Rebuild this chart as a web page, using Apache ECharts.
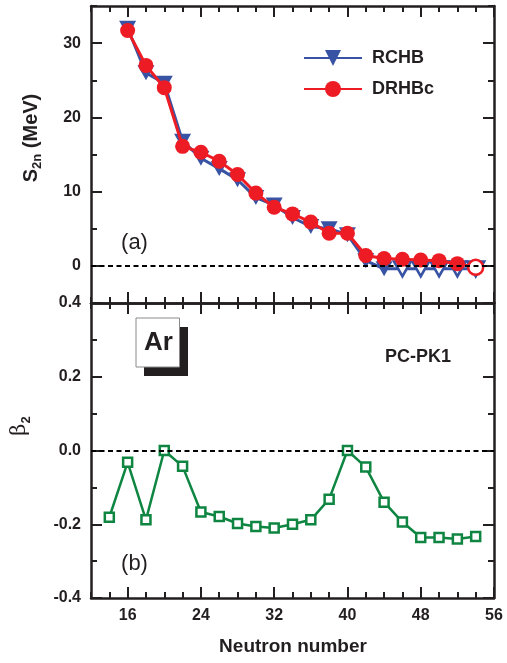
<!DOCTYPE html>
<html><head><meta charset="utf-8">
<script src="https://cdn.jsdelivr.net/npm/echarts@6/dist/echarts.min.js"></script>
<style>html,body{margin:0;padding:0;background:#fff}#c{width:507px;height:663px}</style>
</head><body><div id="c"></div>
<script>
// ---- data ----
const neutronS2n = [16,18,20,22,24,26,28,30,32,34,36,38,40,42,44,46,48,50,52,54];
const rchbS2n    = [32.0,26.0,24.6,16.8,14.5,13.1,11.6,9.2,8.2,6.5,5.3,5.0,4.2,0.7,-0.4,-0.4,-0.4,-0.4,-0.4,-0.4];
const drhbcS2n   = [31.7,27.0,24.0,16.1,15.3,14.1,12.3,9.8,7.9,7.0,5.9,4.4,4.4,1.4,1.0,0.9,0.8,0.7,0.3,-0.2];
const rchbUnboundN  = [46,48,50,52,54];
const drhbcUnboundN = [54];
const neutronBeta = [14,16,18,20,22,24,26,28,30,32,34,36,38,40,42,44,46,48,50,52,54];
const beta2 = [-0.181,-0.032,-0.188,0.0,-0.043,-0.167,-0.179,-0.198,-0.206,-0.210,-0.200,-0.188,-0.132,0.0,-0.045,-0.140,-0.194,-0.236,-0.236,-0.240,-0.233];
const xMajorTicks = [16,24,32,40,48,56];
const s2nMajorTicks = [0,10,20,30];
const betaMajorTicks = [-0.4,-0.2,0,0.2,0.4];
const seriesNames = ['RCHB','DRHBc'];

// ---- styles ----
const AX = '#231f20';
const BLUE = '#3953a4';
const RED = '#ed1c24';
const GREEN = '#0e8541';
const FONT = "'Liberation Sans', Arial, sans-serif";
const lblStyle = {color: AX, fontSize: 16, fontWeight: 'bold', fontFamily: FONT};

function xAx(grid, pos, major, labels) {
  const a = {
    type: 'value', gridIndex: grid, position: pos, min: 12, max: 56,
    axisLine: {show: !major, onZero: false, lineStyle: {color: AX, width: 2.5}},
    axisTick: {show: true, inside: true, length: major ? 11 : 6, lineStyle: {color: AX, width: 2}},
    axisLabel: {show: !!labels, margin: 10, ...lblStyle},
    splitLine: {show: false}
  };
  if (major) { a.axisTick.customValues = xMajorTicks; a.axisLabel.customValues = xMajorTicks; }
  else { a.interval = 2; }
  return a;
}
function yAx(grid, pos, major, labels) {
  const top = grid === 0;
  const a = {
    type: 'value', gridIndex: grid, position: pos,
    min: top ? -5 : -0.4, max: top ? 35 : 0.4,
    axisLine: {show: !major, onZero: false, lineStyle: {color: AX, width: 2.5}},
    axisTick: {show: true, inside: true, length: major ? 11 : 6, lineStyle: {color: AX, width: 2}},
    axisLabel: {show: !!labels, margin: 10, ...lblStyle,
      formatter: top ? (v => String(v)) : (v => v.toFixed(1))},
    splitLine: {show: false}
  };
  if (major) {
    const cv = top ? s2nMajorTicks : betaMajorTicks;
    a.axisTick.customValues = cv; a.axisLabel.customValues = cv;
  } else { a.interval = top ? 5 : 0.1; }
  return a;
}

const xAxes = [
  xAx(0,'bottom',false,false), xAx(0,'bottom',true,false), xAx(0,'top',false,false), xAx(0,'top',true,false),
  xAx(1,'bottom',false,false), xAx(1,'bottom',true,true), xAx(1,'top',false,false), xAx(1,'top',true,false)
];
const yAxes = [
  yAx(0,'left',false,false), yAx(0,'left',true,true), yAx(0,'right',false,false), yAx(0,'right',true,false),
  yAx(1,'left',false,false), yAx(1,'left',true,true), yAx(1,'right',false,false), yAx(1,'right',true,false)
];

function hollow(color) { return {color: '#fff', borderColor: color, borderWidth: 2.5}; }
const zeroLine = {
  silent: true, symbol: 'none', label: {show: false},
  lineStyle: {color: '#000', type: [5, 3.5], width: 1.8},
  data: [{yAxis: 0}], animation: false
};

const option = {
  animation: false,
  backgroundColor: '#fff',
  grid: [
    {left: 91, width: 403, top: 6, height: 297},
    {left: 91, width: 403, top: 303, height: 295}
  ],
  xAxis: xAxes,
  yAxis: yAxes,
  legend: {
    data: seriesNames, orient: 'vertical', left: 298, top: 44,
    itemWidth: 58, itemHeight: 20, itemGap: 13,
    textStyle: {color: AX, fontSize: 18, fontWeight: 'bold', fontFamily: FONT, padding: [0,0,0,5]}
  },
  series: [
    {
      type: 'line', name: seriesNames[0], xAxisIndex: 0, yAxisIndex: 0,
      data: neutronS2n.map((n, i) => ({value: [n, rchbS2n[i]], itemStyle: rchbUnboundN.includes(n) ? hollow(BLUE) : undefined})),
      symbol: 'triangle', symbolRotate: 180, symbolSize: [17, 15], showAllSymbol: true,
      itemStyle: {color: BLUE}, lineStyle: {color: BLUE, width: 3}, z: 2
    },
    {
      type: 'line', name: seriesNames[1], xAxisIndex: 0, yAxisIndex: 0,
      data: neutronS2n.map((n, i) => ({value: [n, drhbcS2n[i]], itemStyle: drhbcUnboundN.includes(n) ? hollow(RED) : undefined})),
      symbol: 'circle', symbolSize: 15, showAllSymbol: true,
      itemStyle: {color: RED}, lineStyle: {color: RED, width: 3}, z: 3,
      markLine: zeroLine
    },
    {
      type: 'line', name: 'beta2', xAxisIndex: 4, yAxisIndex: 4,
      data: neutronBeta.map((n, i) => [n, beta2[i]]),
      symbol: 'rect', symbolSize: 9, showAllSymbol: true,
      itemStyle: hollow(GREEN), lineStyle: {color: GREEN, width: 2.5}, z: 3,
      markLine: zeroLine
    }
  ],
  graphic: [
    {type: 'text', x: 31, y: 138, rotation: Math.PI / 2,
      style: {text: '{m|S}{s|2n}{m| (MeV)}', align: 'center', verticalAlign: 'middle', fill: AX,
        rich: {m: {fontSize: 20, fontWeight: 'bold', fontFamily: FONT, lineHeight: 26, verticalAlign: 'middle', fill: AX},
               s: {fontSize: 13, fontWeight: 'bold', fontFamily: FONT, lineHeight: 26, verticalAlign: 'bottom', fill: AX}}}},
    {type: 'text', x: 20, y: 426, rotation: Math.PI / 2,
      style: {text: '{m|β}{s|2}', align: 'center', verticalAlign: 'middle', fill: AX,
        rich: {m: {fontSize: 21, fontFamily: "'DejaVu Serif', serif", lineHeight: 26, verticalAlign: 'middle', fill: AX},
               s: {fontSize: 13, fontWeight: 'bold', fontFamily: FONT, lineHeight: 26, verticalAlign: 'bottom', fill: AX}}}},
    {type: 'text', x: 293, y: 647,
      style: {text: 'Neutron number', align: 'center', verticalAlign: 'middle', fill: AX, fontSize: 19, fontWeight: 'bold', fontFamily: FONT}},
    {type: 'text', x: 134.5, y: 243,
      style: {text: '(a)', align: 'center', verticalAlign: 'middle', fill: AX, fontSize: 22, fontFamily: FONT}},
    {type: 'text', x: 134.5, y: 564,
      style: {text: '(b)', align: 'center', verticalAlign: 'middle', fill: AX, fontSize: 22, fontFamily: FONT}},
    {type: 'text', x: 418, y: 357,
      style: {text: 'PC-PK1', align: 'center', verticalAlign: 'middle', fill: AX, fontSize: 18, fontWeight: 'bold', fontFamily: FONT}},
    {type: 'rect', shape: {x: 144, y: 327, width: 44, height: 49}, style: {fill: '#231f20'}},
    {type: 'rect', shape: {x: 136, y: 318, width: 43.5, height: 49}, style: {fill: '#fff', stroke: '#8a8a8a', lineWidth: 1}},
    {type: 'text', x: 158.5, y: 343,
      style: {text: 'Ar', align: 'center', verticalAlign: 'middle', fill: AX, fontSize: 26, fontWeight: 'bold', fontFamily: FONT}}
  ]
};
const chart = echarts.init(document.getElementById('c'), null, {renderer: 'canvas'});
chart.setOption(option);
</script>
</body></html>
